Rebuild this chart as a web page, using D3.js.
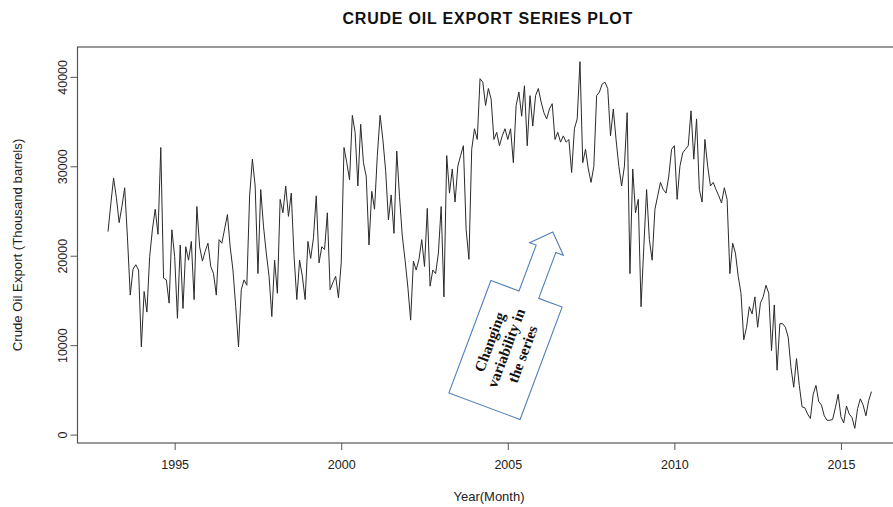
<!DOCTYPE html>
<html>
<head>
<meta charset="utf-8">
<script src="https://cdn.jsdelivr.net/npm/d3@7/dist/d3.min.js"></script>
<style>
  body { margin: 0; background: #fff; }
  svg { display: block; }
</style>
</head>
<body>
<svg id="chart" width="893" height="507"></svg>
<script>
// Monthly crude oil exports (thousand barrels), January 1993 onwards
const startYear = 1993;
const exportValues = [
  22700, 25800, 28700, 26500, 23700, 25500, 27600, 22000, 15600, 18500, 19000, 18400,
  9800, 16000, 13700, 19900, 23000, 25200, 22400, 32100, 17500, 17300, 14700, 22900,
  19900, 13000, 21200, 14100, 21000, 19500, 21600, 15100, 25500, 21000, 19400, 20500,
  21400, 18800, 18000, 15600, 21800, 21400, 23000, 24600, 21000, 18400, 14300, 9800,
  16200, 17300, 16700, 26700, 30800, 27800, 18000, 27400, 23300, 20300, 17700, 13200,
  19500, 15800, 26300, 24800, 27800, 24400, 27000, 20000, 15100, 19500, 17700, 15100,
  21600, 19700, 22000, 26700, 19200, 21000, 20700, 24800, 16200, 17000, 17700, 15300,
  19200, 32100, 30400, 28500, 35700, 33800, 27800, 34700, 30400, 28900, 21200, 27200,
  25200, 31200, 35700, 33000, 29500, 24000, 26800, 22500, 31700, 26600, 22200, 19500,
  16500, 12800, 19400, 18400, 19600, 21800, 18800, 25300, 16600, 18400, 18000, 20300,
  25500, 15400, 31200, 27000, 29700, 26000, 30000, 31200, 32300, 22900, 19600, 31900,
  34200, 33000, 39800, 39400, 36800, 38700, 37500, 33000, 33800, 32300, 33400, 34200,
  33000, 34200, 30400, 36800, 38300, 35600, 39000, 32300, 37900, 34500, 37900, 38700,
  37200, 36000, 35300, 36400, 37000, 33000, 33800, 32700, 33400, 32700, 33000, 29300,
  34200, 35300, 41700, 30400, 31900, 29700, 28200, 30000, 37900, 38300, 39200, 39400,
  38700, 33400, 36400, 33000, 30000, 27800, 30000, 36000, 18000, 29700, 24800, 26300,
  14300, 21000, 27400, 21800, 19500, 25200, 26700, 28200, 27400, 27000, 28900, 31900,
  32300, 26300, 30000, 31500, 31900, 32300, 36200, 30800, 35300, 27400, 26000, 33000,
  30000, 27800, 28200, 27400, 26700, 25900, 27600, 26300, 18000, 21400, 20300, 17700,
  15800, 10600, 12000, 14300, 13500, 15400, 12000, 14700, 15400, 16700, 15800, 9400,
  14500, 7200, 12400, 12400, 12000, 10900, 7500, 5300, 8500, 5500, 3100, 3000,
  2300, 1800, 4500, 5500, 3700, 3300, 2100, 1600, 1600, 1700, 3000, 4500,
  2000, 1300, 3200, 2300, 1900, 700, 2900, 4000, 3300, 2100, 3800, 4800
];
const xTickYears = [1995, 2000, 2005, 2010, 2015];
const yTickValues = [0, 10000, 20000, 30000, 40000];
const titleText = "CRUDE OIL EXPORT SERIES PLOT";
const xTitle = "Year(Month)";
const yTitle = "Crude Oil Export (Thousand barrels)";
const calloutLines = ["Changing", "variability in", "the series"];

const svg = d3.select("#chart");
const plot = { left: 77.5, right: 902, top: 47, bottom: 443 };
const sans = "'Liberation Sans', Arial, sans-serif";

const times = exportValues.map((v, i) => startYear + i / 12);
const series = exportValues.map((v, i) => ({ t: times[i], v }));

// base-graphics style limits: data range widened by 4% on each side
function widen(ext) {
  const r = ext[1] - ext[0];
  return [ext[0] - 0.04 * r, ext[1] + 0.04 * r];
}
const x = d3.scaleLinear().domain(widen(d3.extent(times))).range([plot.left, plot.right]);
const y = d3.scaleLinear().domain(widen(d3.extent(exportValues))).range([plot.bottom, plot.top]);

// series line
svg.append("path")
  .datum(series)
  .attr("fill", "none")
  .attr("stroke", "#2a2a2a")
  .attr("stroke-width", 1)
  .attr("stroke-linejoin", "round")
  .attr("d", d3.line().x(d => x(d.t)).y(d => y(d.v)));

// plot frame
svg.append("rect")
  .attr("x", plot.left).attr("y", plot.top)
  .attr("width", plot.right - plot.left).attr("height", plot.bottom - plot.top)
  .attr("fill", "none").attr("stroke", "#555").attr("stroke-width", 1.2);

// x axis
const xAxis = svg.append("g")
  .attr("transform", `translate(0,${plot.bottom})`)
  .call(d3.axisBottom(x).tickValues(xTickYears).tickSize(7).tickPadding(10).tickFormat(d3.format("d")));
xAxis.select(".domain").remove();
xAxis.selectAll("line").attr("stroke", "#555");
xAxis.selectAll("text").attr("font-family", sans).attr("font-size", 12.5).attr("fill", "#222");

// y axis, labels turned vertical
const yAxis = svg.append("g")
  .attr("transform", `translate(${plot.left},0)`)
  .call(d3.axisLeft(y).tickValues(yTickValues).tickSize(7).tickFormat(d3.format("d")));
yAxis.select(".domain").remove();
yAxis.selectAll("line").attr("stroke", "#555");
yAxis.selectAll("text")
  .attr("x", 0).attr("dy", null)
  .attr("transform", "translate(-11,0) rotate(-90)")
  .attr("text-anchor", "middle")
  .attr("font-family", sans).attr("font-size", 12.5).attr("fill", "#222");

// titles
svg.append("text")
  .attr("x", (plot.left + plot.right) / 2 - 2).attr("y", 24)
  .attr("text-anchor", "middle")
  .attr("font-family", sans).attr("font-weight", "bold").attr("font-size", 16)
  .attr("letter-spacing", 0.8)
  .attr("fill", "#111")
  .text(titleText);

svg.append("text")
  .attr("x", 489).attr("y", 501)
  .attr("text-anchor", "middle")
  .attr("font-family", sans).attr("font-size", 13).attr("fill", "#222")
  .text(xTitle);

svg.append("text")
  .attr("transform", `translate(22,${(plot.top + plot.bottom) / 2}) rotate(-90)`)
  .attr("text-anchor", "middle")
  .attr("font-family", sans).attr("font-size", 13.2).attr("fill", "#222")
  .text(yTitle);

// callout: tilted box with an arrow pointing up to the high-variance stretch
const callout = svg.append("g").attr("transform", "translate(505.5,350) rotate(20.5)");
const calloutShape = [
  [-38, -60], [-8, -60], [-8, -109], [-15, -109], [3, -127], [21, -109],
  [13, -109], [13, -60], [38, -60], [38, 60], [-38, 60]
];
callout.append("path")
  .attr("d", d3.line()(calloutShape) + "Z")
  .attr("fill", "#fff")
  .attr("stroke", "#4f7fb8")
  .attr("stroke-width", 1.1);
callout.selectAll("text.callout")
  .data(calloutLines)
  .join("text")
  .attr("class", "callout")
  .attr("transform", (d, i) => `translate(${(i - 1) * 17.6},-2) rotate(-90)`)
  .attr("text-anchor", "middle")
  .attr("dominant-baseline", "central")
  .attr("font-family", "'Liberation Serif', 'Times New Roman', serif")
  .attr("font-weight", "bold")
  .attr("font-size", 15)
  .attr("fill", "#111")
  .text(d => d);
</script>
</body>
</html>
